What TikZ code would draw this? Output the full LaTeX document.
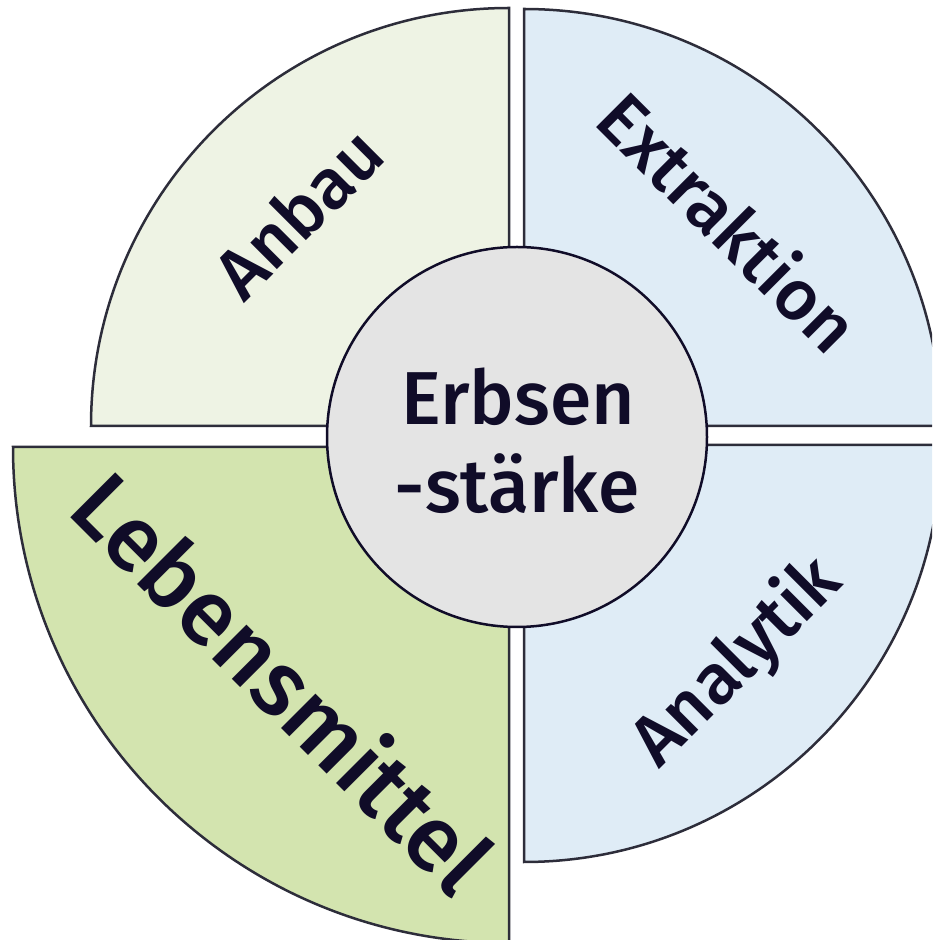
\documentclass[tikz,border=0pt]{standalone}
\usepackage{fontspec}
\setmainfont{Fira Sans}[UprightFont={* Medium}]
\definecolor{txt}{RGB}{16,12,40}
\definecolor{edge}{RGB}{45,45,58}
\definecolor{fillTL}{RGB}{238,243,228}
\definecolor{fillBlue}{RGB}{223,236,246}
\definecolor{fillBL}{RGB}{211,228,175}
\definecolor{fillC}{RGB}{228,228,228}
\tikzset{
  quad/.style={draw=edge,line width=2.5pt,line join=miter},
  lbl/.style={text=txt,inner sep=0pt,anchor=base},
}
\begin{document}
\begin{tikzpicture}[x=1pt,y=1pt]
\useasboundingbox (0,0) rectangle (932,940);
\clip (0,0) rectangle (932,940);
% quadrants
\draw[quad,fill=fillTL] (509,514) -- ++(-418,0) arc[start angle=180,end angle=90,radius=418] -- cycle;
\draw[quad,fill=fillBlue] (524,514) -- ++(0,417) arc[start angle=90,end angle=0,radius=417] -- cycle;
\draw[quad,fill=fillBlue] (524,495) -- ++(417,0) arc[start angle=0,end angle=-90,radius=417] -- cycle;
\draw[quad,fill=fillBL] (509,493) -- ++(0,-496) arc[start angle=-90,end angle=-180,radius=496] -- cycle;
% centre
\node[circle,draw=txt,line width=2.5pt,fill=fillC,minimum size=380pt,inner sep=0pt] (centre) at (517,503) {};
\node[lbl,font=\fontsize{75}{80}\selectfont] (erbsen) at (518,515) {Erbsen};
\node[lbl,font=\fontsize{75}{80}\selectfont] (staerke) at (517,427) {-stärke};
% labels
\node[lbl,rotate=45,font=\fontsize{71}{78}\selectfont] (anbau) at (316.5,709) {Anbau};
\node[lbl,rotate=-45,font=\fontsize{71}{78}\selectfont] (extraktion) at (710,699) {Extraktion};
\node[lbl,rotate=45,font=\fontsize{71}{78}\selectfont] (analytik) at (752,263) {Analytik};
\node[lbl,rotate=-45,font=\fontsize{92}{100}\selectfont] (lebensmittel) at (259,234) {Lebensmittel};
\end{tikzpicture}
\end{document}
